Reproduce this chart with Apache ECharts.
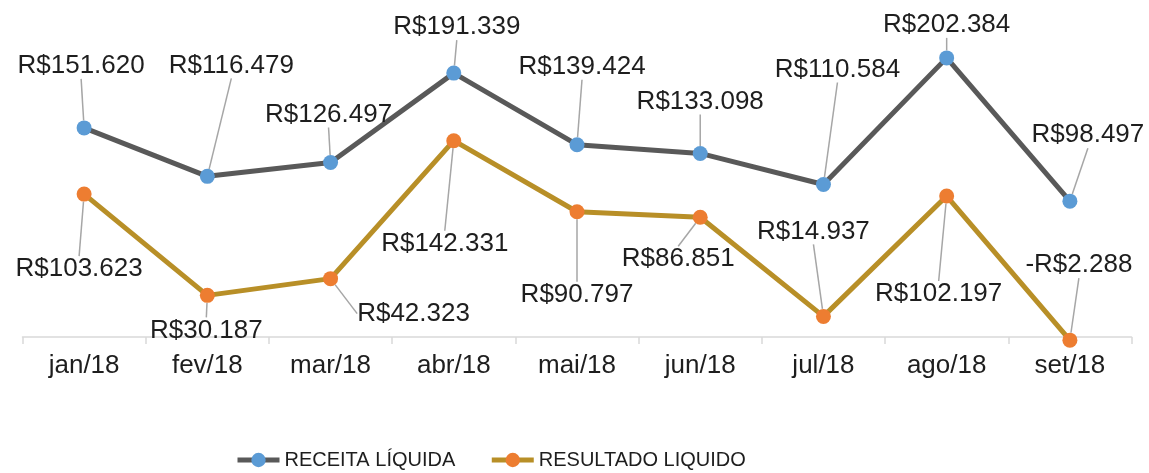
<!DOCTYPE html>
<html>
<head>
<meta charset="utf-8">
<script src="https://cdn.jsdelivr.net/npm/echarts@6/dist/echarts.min.js"></script>
<style>
  html, body { margin: 0; padding: 0; background: #fff; }
  #chart { width: 1149px; height: 473px; }
</style>
</head>
<body>
<div id="chart"></div>
<script>
"use strict";

var months = ['jan/18', 'fev/18', 'mar/18', 'abr/18', 'mai/18', 'jun/18', 'jul/18', 'ago/18', 'set/18'];
var receitaLiquida = [151620, 116479, 126497, 191339, 139424, 133098, 110584, 202384, 98497];
var resultadoLiquido = [103623, 30187, 42323, 142331, 90797, 86851, 14937, 102197, -2288];

// where each data label sits, relative to its point (px)
var receitaShift = [[-3, -62], [24, -111], [-2, -48], [3, -46], [5, -78], [0, -52], [14, -115], [0, -33], [18, -66]];
var resultadoShift = [[-5, 75], [-1, 35], [83, 35], [-9, 103], [0, 83], [-22, 42], [-10, -85], [-8, 98], [9, -75]];

function brl(v) {
  var s = String(Math.abs(v)).replace(/\B(?=(\d{3})+(?!\d))/g, '.');
  return (v < 0 ? '-' : '') + 'R$' + s;
}

var font = "'Liberation Sans', Arial, sans-serif";

function makeSeries(name, data, lineColor, dotColor, shift) {
  return {
    name: name,
    type: 'line',
    data: data,
    clip: false,
    symbol: 'circle',
    symbolSize: 15,
    lineStyle: { color: lineColor, width: 5 },
    itemStyle: { color: dotColor },
    label: {
      show: true,
      position: 'inside',
      fontFamily: font,
      fontSize: 26,
      color: '#1e1e1e',
      formatter: function (p) { return brl(p.value); }
    },
    labelLine: {
      show: true,
      lineStyle: { color: '#a6a6a6', width: 1.5 }
    },
    labelLayout: function (params) {
      var d = shift[params.dataIndex];
      return { dx: d[0], dy: d[1] };
    },
    emphasis: { disabled: true }
  };
}

var myChart = echarts.init(document.getElementById('chart'), null, { renderer: 'canvas' });
var option = {
  animation: false,
  backgroundColor: '#ffffff',
  grid: { left: 22.5, right: 17.5, top: 6, bottom: 136 },
  legend: {
    left: 235,
    top: 450,
    padding: 0,
    itemWidth: 42,
    itemHeight: 18,
    itemGap: 34,
    lineStyle: { width: 5 },
    textStyle: {
      fontFamily: "'Liberation Sans Narrow', 'Liberation Sans', Arial, sans-serif",
      fontSize: 20,
      color: '#1e1e1e',
      padding: [2, 0, 0, 0]
    },
    data: ['RECEITA LÍQUIDA', 'RESULTADO LIQUIDO']
  },
  xAxis: {
    type: 'category',
    data: months,
    boundaryGap: true,
    axisLine: { lineStyle: { color: '#d9d9d9', width: 1.5 } },
    axisTick: { show: true, length: 7, lineStyle: { color: '#d9d9d9', width: 1.5 } },
    axisLabel: { fontFamily: font, fontSize: 26, color: '#1e1e1e', margin: 16 },
    splitLine: { show: false }
  },
  yAxis: {
    type: 'value',
    show: false,
    min: 0,
    max: 240000,
    splitLine: { show: false }
  },
  series: [
    makeSeries('RECEITA LÍQUIDA', receitaLiquida, '#595959', '#5b9bd5', receitaShift),
    makeSeries('RESULTADO LIQUIDO', resultadoLiquido, '#b88f27', '#ed7d31', resultadoShift)
  ]
};
myChart.setOption(option);
</script>
</body>
</html>
